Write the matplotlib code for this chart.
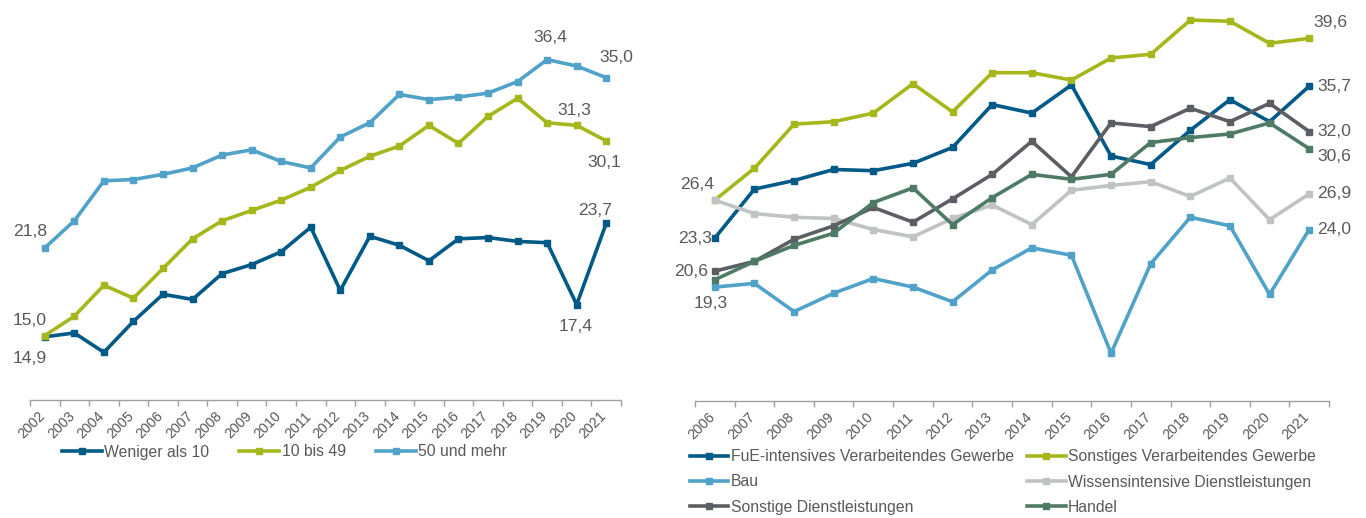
import matplotlib
matplotlib.use("Agg")
import matplotlib.pyplot as plt
from matplotlib.ticker import FixedLocator
from matplotlib.transforms import ScaledTranslation

plt.rcParams['font.family'] = ['Liberation Sans', 'DejaVu Sans']

# ---------------- data: left chart ----------------
years_left = [str(y) for y in range(2002, 2022)]
weniger_als_10 = [14.9, 15.2, 13.7, 16.1, 18.2, 17.8, 19.8, 20.5, 21.5, 23.4,
                  18.5, 22.7, 22.0, 20.8, 22.5, 22.6, 22.3, 22.2, 17.4, 23.7]
bis_10_49 = [15.0, 16.5, 18.9, 17.9, 20.2, 22.5, 23.9, 24.7, 25.5, 26.5,
             27.8, 28.9, 29.7, 31.3, 29.9, 32.0, 33.4, 31.5, 31.3, 30.1]
und_mehr_50 = [21.8, 23.9, 27.0, 27.1, 27.5, 28.0, 29.0, 29.4, 28.5, 28.0,
               30.4, 31.5, 33.7, 33.3, 33.5, 33.8, 34.7, 36.4, 35.9, 35.0]
left_names = ["Weniger als 10", "10 bis 49", "50 und mehr"]

# ---------------- data: right chart ----------------
years_right = [str(y) for y in range(2006, 2022)]
fue = [23.3, 27.3, 28.0, 28.9, 28.8, 29.4, 30.7, 34.2, 33.5, 35.8,
       30.0, 29.3, 32.1, 34.6, 32.8, 35.7]
sonst_verarb = [26.4, 29.0, 32.6, 32.8, 33.5, 35.9, 33.6, 36.8, 36.8, 36.2,
                38.0, 38.3, 41.1, 41.0, 39.2, 39.6]
bau = [19.3, 19.6, 17.3, 18.8, 20.0, 19.3, 18.1, 20.7, 22.5, 21.9,
       13.9, 21.2, 25.0, 24.3, 18.7, 24.0]
wissens = [26.4, 25.3, 25.0, 24.9, 24.0, 23.4, 24.9, 26.0, 24.4, 27.2,
           27.6, 27.9, 26.7, 28.2, 24.8, 26.9]
sonst_dl = [20.6, 21.4, 23.2, 24.3, 25.8, 24.6, 26.5, 28.5, 31.2, 28.3,
            32.7, 32.4, 33.9, 32.8, 34.3, 32.0]
handel = [19.9, 21.4, 22.7, 23.7, 26.2, 27.4, 24.4, 26.6, 28.5, 28.1,
          28.5, 31.1, 31.5, 31.8, 32.7, 30.6]
right_names = ["FuE-intensives Verarbeitendes Gewerbe", "Sonstiges Verarbeitendes Gewerbe",
               "Bau", "Wissensintensive Dienstleistungen", "Sonstige Dienstleistungen", "Handel"]

# ---------------- style ----------------
C_DARK = "#005a87"
C_GREEN = "#a6b71d"
C_LIGHT = "#51a2c9"
C_LGREY = "#c0c2c4"
C_DGREY = "#5b5f63"
C_DGREEN = "#4e7b65"
TXT = "#595959"
AX = "#a0a0a0"
LW = 2.6
MS = 4.2
LABEL_FS = 12.6

W, H = 1366, 518
fig = plt.figure(figsize=(W / 100, H / 100), dpi=100)


def px_axes(x0, x1, ybot, ytop):
    return fig.add_axes([x0 / W, (H - ybot) / H, (x1 - x0) / W, (ybot - ytop) / H])


def style_axes(ax, labels, ymin, ymax):
    n = len(labels)
    ax.set_xlim(-0.5, n - 0.5)
    ax.set_ylim(ymin, ymax)
    for s in ["top", "right", "left"]:
        ax.spines[s].set_visible(False)
    ax.spines["bottom"].set_color(AX)
    ax.spines["bottom"].set_linewidth(1.0)
    ax.set_yticks([])
    ax.xaxis.set_major_locator(FixedLocator([i - 0.5 for i in range(n + 1)]))
    ax.xaxis.set_major_formatter(plt.NullFormatter())
    ax.tick_params(axis="x", which="major", length=4, width=1.0, color=AX, direction="out")
    ax.set_xticks(range(n), labels, minor=True)
    ax.tick_params(axis="x", which="minor", length=0, pad=6.5, labelsize=10.3, labelcolor=TXT)
    shift = ScaledTranslation(3 / 100, 0, fig.dpi_scale_trans)
    for lab in ax.get_xticklabels(minor=True):
        lab.set_rotation(45)
        lab.set_ha("right")
        lab.set_rotation_mode("default")
        lab.set_transform(lab.get_transform() + shift)
    ax.patch.set_alpha(0)


def plot_series(ax, vals, color, name):
    line, = ax.plot(range(len(vals)), vals, color=color, lw=LW, marker="s", ms=MS,
                    label=name, solid_joinstyle="miter", clip_on=False)
    return line


def label(ax, i, vals, text, dx, dy, ha="center"):
    ax.annotate(text, (i, vals[i]), xytext=(dx / 1.389, dy / 1.389), textcoords="offset points",
                ha=ha, va="center", fontsize=LABEL_FS, color=TXT)


# ---------------- left chart ----------------
axL = px_axes(30, 621, 400, 13.2)
style_axes(axL, years_left, 10, 40)
l1 = plot_series(axL, weniger_als_10, C_DARK, left_names[0])
l2 = plot_series(axL, bis_10_49, C_GREEN, left_names[1])
l3 = plot_series(axL, und_mehr_50, C_LIGHT, left_names[2])

label(axL, 0, und_mehr_50, "21,8", -15, 16)
label(axL, 0, bis_10_49, "15,0", -15, 15)
label(axL, 0, weniger_als_10, "14,9", -15, -22)
label(axL, 17, und_mehr_50, "36,4", 3, 22)
label(axL, 19, und_mehr_50, "35,0", 10, 20)
label(axL, 18, bis_10_49, "31,3", -2, 15)
label(axL, 19, bis_10_49, "30,1", -2, -22)
label(axL, 19, weniger_als_10, "23,7", -11, 13)
label(axL, 18, weniger_als_10, "17,4", -1, -22)

legL = fig.legend(handles=[l1, l2, l3], loc="center left", bbox_to_anchor=(62 / W, (H - 452) / H),
                  ncol=3, frameon=False, fontsize=11.3, handlelength=2.55, handletextpad=0.15,
                  columnspacing=1.9, borderpad=0, borderaxespad=0, labelcolor=TXT)

# ---------------- right chart ----------------
axR = px_axes(695, 1329, 401, 9.0)
style_axes(axR, years_right, 10, 42)
r1 = plot_series(axR, fue, C_DARK, right_names[0])
r2 = plot_series(axR, sonst_verarb, C_GREEN, right_names[1])
r3 = plot_series(axR, bau, C_LIGHT, right_names[2])
r4 = plot_series(axR, wissens, C_LGREY, right_names[3])
r5 = plot_series(axR, sonst_dl, C_DGREY, right_names[4])
r6 = plot_series(axR, handel, C_DGREEN, right_names[5])

label(axR, 15, sonst_verarb, "39,6", 4, 15.6, ha="left")
label(axR, 15, fue, "35,7", 8, 0, ha="left")
label(axR, 15, sonst_dl, "32,0", 8, 0, ha="left")
label(axR, 15, handel, "30,6", 8, -7.7, ha="left")
label(axR, 15, wissens, "26,9", 8, 0, ha="left")
label(axR, 15, bau, "24,0", 8, 0, ha="left")
label(axR, 0, sonst_verarb, "26,4", -18, 16)
label(axR, 0, fue, "23,3", -3, 0, ha="right")
label(axR, 0, sonst_dl, "20,6", -7, 0, ha="right")
label(axR, 0, bau, "19,3", -4, -16)

legR = fig.legend(handles=[r1, r3, r5, r2, r4, r6], loc="center left",
                  bbox_to_anchor=(690 / W, (H - 482) / H), ncol=2, frameon=False,
                  fontsize=11.3, handlelength=2.45, handletextpad=0.15, columnspacing=0.85,
                  labelspacing=0.64, borderpad=0, borderaxespad=0, labelcolor=TXT)

fig.savefig("out.png", dpi=100)
